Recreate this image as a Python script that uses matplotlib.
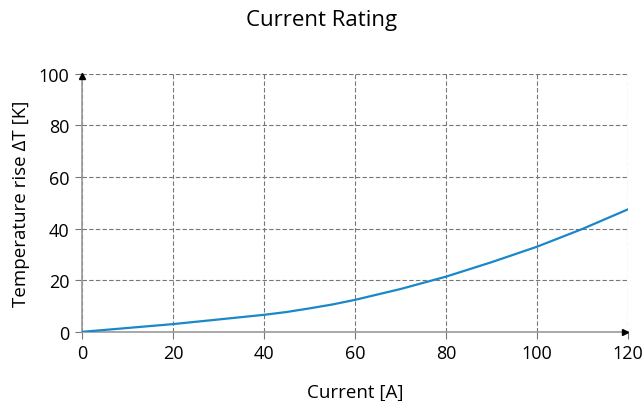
import matplotlib
matplotlib.use("Agg")
import matplotlib.pyplot as plt

plt.rcParams['font.family'] = ['Open Sans', 'DejaVu Sans']

# valores
corrente = [0, 10, 20, 30, 40, 45, 50, 55, 60, 70, 80, 90, 100, 110, 120]
temperatura = [0, 1.5, 3.0, 4.8, 6.6, 7.7, 9.1, 10.6, 12.4, 16.6, 21.4, 27.0, 33.0, 39.9, 47.5]

x_ticks = [0, 20, 40, 60, 80, 100, 120]
y_ticks = [0, 20, 40, 60, 80, 100]

fig = plt.figure(figsize=(6.44, 4.02), dpi=100)
ax = fig.add_axes([0.1273, 0.172, 0.848, 0.642])

ax.plot(corrente, temperatura, color='#1a87c9', lw=1.6, zorder=3)

ax.set_xlim(0, 120)
ax.set_ylim(0, 100)
ax.set_xticks(x_ticks)
ax.set_yticks(y_ticks)
ax.grid(True, ls=(0, (4, 2)), color='#777777', lw=0.8)

for lado in ['top', 'right']:
    ax.spines[lado].set_visible(False)
for lado in ['left', 'bottom']:
    ax.spines[lado].set_color('#999999')
    ax.spines[lado].set_linewidth(1.2)

# setas no fim dos eixos
ax.plot(0.995, 0, '>', color='black', ms=5, transform=ax.get_yaxis_transform(), clip_on=False, zorder=4)
ax.plot(0, 0.99, '^', color='black', ms=5, transform=ax.get_xaxis_transform(), clip_on=False, zorder=4)

ax.tick_params(axis='both', length=5, color='#777777', labelsize=13, pad=4)

ax.set_xlabel('Current [A]', fontsize=13.5, labelpad=15)
ax.set_ylabel('Temperature rise ΔT [K]', fontsize=13.5, labelpad=6)
fig.suptitle('Current Rating', fontsize=16, y=0.975)

fig.savefig('out.png', dpi=100)
